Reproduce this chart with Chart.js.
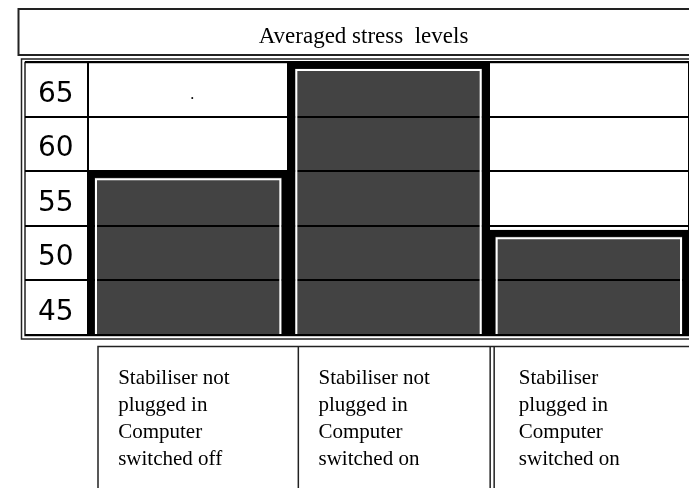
<!DOCTYPE html>
<html><head><meta charset="utf-8">
<script src="https://cdn.jsdelivr.net/npm/chart.js@4/dist/chart.umd.min.js"></script>
<style>html,body{margin:0;padding:0;background:#fff;} #wrap{width:689px;height:488px;}</style>
</head><body><div id="wrap"><canvas id="c" width="689" height="488"></canvas></div>
<script>
const titleText = 'Averaged stress  levels';
const categories = [
  ['Stabiliser not', 'plugged in', 'Computer', 'switched off'],
  ['Stabiliser not', 'plugged in', 'Computer', 'switched on'],
  ['Stabiliser', 'plugged in', 'Computer', 'switched on']
];
const stressValues = [57.5, 67.5, 52.1];
const yTickValues = [45, 50, 55, 60, 65];
const yMin = 42.5;
const yMax = 67.5;
const cellNote = '.';

const framePlugin = {
  id: 'frames',
  beforeDraw(chart) {
    const ctx = chart.ctx, ca = chart.chartArea, W = chart.width;
    ctx.save();
    ctx.fillStyle = '#fff';
    ctx.fillRect(0, 0, W, chart.height);
    ctx.strokeStyle = '#222';
    // title box
    ctx.lineWidth = 2;
    ctx.strokeRect(18.5, 9, W + 10, ca.top - 16);
    // plot double frame
    ctx.lineWidth = 1.5;
    ctx.strokeRect(21.5, ca.top - 3, W + 10, ca.bottom - ca.top + 7);
    ctx.strokeRect(25, ca.top + 0.5, W + 10, ca.bottom - ca.top);
    // bottom label boxes
    const step = (ca.right - ca.left) / categories.length;
    const top = ca.bottom + 11.5;
    ctx.lineWidth = 1.5;
    ctx.beginPath();
    ctx.moveTo(ca.left + 10, chart.height + 2);
    ctx.lineTo(ca.left + 10, top);
    ctx.lineTo(W + 2, top);
    ctx.moveTo(ca.left + step + 10, top);
    ctx.lineTo(ca.left + step + 10, chart.height + 2);
    ctx.moveTo(ca.left + 2 * step + 1.5, top);
    ctx.lineTo(ca.left + 2 * step + 1.5, chart.height + 2);
    ctx.moveTo(ca.left + 2 * step + 5.5, top);
    ctx.lineTo(ca.left + 2 * step + 5.5, chart.height + 2);
    ctx.stroke();
    ctx.restore();
  },
  afterDraw(chart) {
    const ctx = chart.ctx, ca = chart.chartArea;
    ctx.save();
    ctx.strokeStyle = '#fff';
    ctx.lineWidth = 2;
    chart.getDatasetMeta(0).data.forEach(bar => {
      const p = bar.getProps(['x', 'y', 'base', 'width'], true);
      const l = p.x - p.width / 2 + 8, r = p.x + p.width / 2 - 8, t = Math.max(p.y, ca.top) + 8;
      const b = Math.min(p.base, ca.bottom - 1);
      ctx.beginPath();
      ctx.moveTo(l, b);
      ctx.lineTo(l, t);
      ctx.lineTo(r, t);
      ctx.lineTo(r, b);
      ctx.stroke();
    });
    ctx.fillStyle = '#000';
    ctx.font = '16px "Liberation Serif"';
    ctx.textAlign = 'center';
    const xs = chart.scales.x, ys = chart.scales.y;
    ctx.fillText(cellNote, xs.getPixelForValue(0) + 4, ys.getPixelForValue(65) + 10);
    ctx.restore();
  }
};

new Chart(document.getElementById('c'), {
  type: 'bar',
  data: {
    labels: categories,
    datasets: [{
      data: stressValues,
      backgroundColor: '#434343',
      borderColor: '#000',
      borderWidth: 7,
      borderSkipped: 'bottom',
      barPercentage: 1,
      categoryPercentage: 1
    }]
  },
  options: {
    responsive: false,
    animation: false,
    layout: { padding: { left: 38, right: 0, top: 10, bottom: 0 } },
    plugins: {
      legend: { display: false },
      tooltip: { enabled: false },
      title: {
        display: true,
        text: titleText,
        color: '#000',
        font: { family: '"Liberation Serif"', size: 23, weight: 'normal', lineHeight: 1.2 },
        padding: { top: 13.5, bottom: 10.9 }
      }
    },
    scales: {
      x: {
        grid: { offset: true, color: '#000', lineWidth: 2, drawTicks: false },
        border: { display: true, color: '#000', width: 2 },
        ticks: {
          color: '#000',
          align: 'start',
          labelOffset: -70,
          padding: 29.5,
          maxRotation: 0,
          autoSkip: false,
          font: { family: '"Liberation Serif"', size: 21, lineHeight: 27 / 21 }
        },
        afterFit(s) { s.height = 153; s.paddingLeft = 0; s.paddingRight = 0; }
      },
      y: {
        min: yMin,
        max: yMax,
        afterBuildTicks(s) { s.ticks = yTickValues.map(v => ({ value: v })); },
        grid: { offset: true, color: '#000', lineWidth: 2, drawTicks: true, tickLength: 63, z: 1 },
        border: { display: true, color: '#000', width: 2, z: 2 },
        ticks: {
          color: '#000',
          crossAlign: 'far',
          padding: 0,
          labelOffset: 5,
          font: { family: '"DejaVu Sans"', size: 28 }
        },
        afterFit(s) { s.width = 50; s.paddingTop = 0; s.paddingBottom = 0; }
      }
    }
  },
  plugins: [framePlugin]
});
</script>
</body></html>
